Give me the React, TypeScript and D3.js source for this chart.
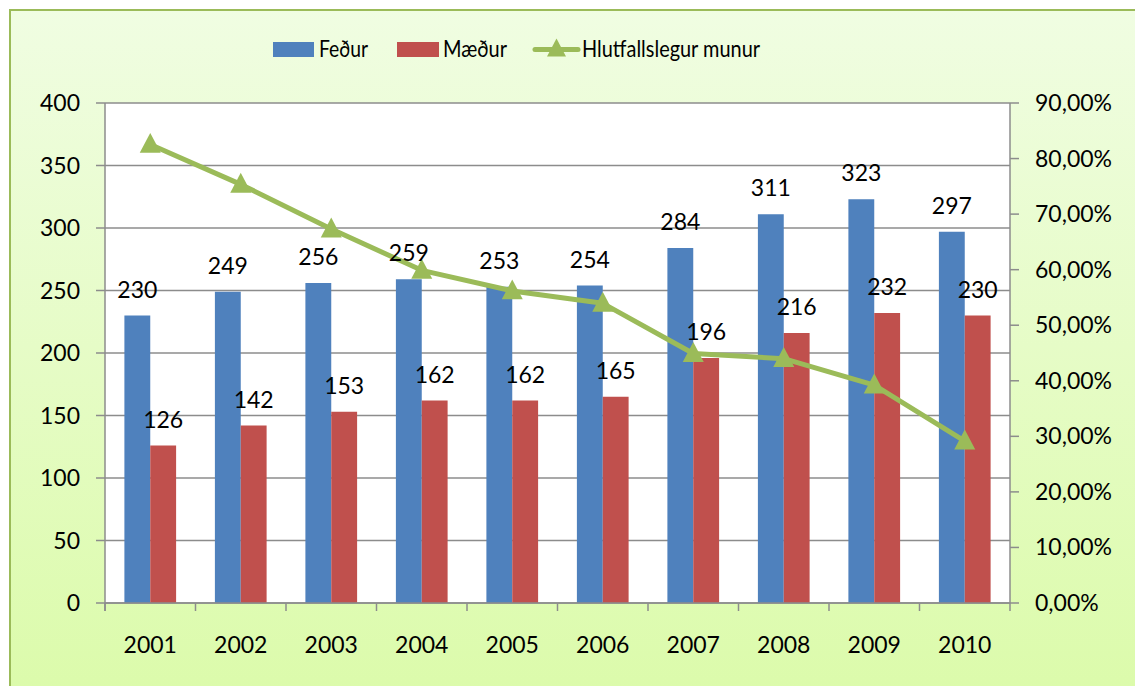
import React from "react";
import * as d3 from "d3";

const years = ["2001", "2002", "2003", "2004", "2005", "2006", "2007", "2008", "2009", "2010"];
const fathers = [230, 249, 256, 259, 253, 254, 284, 311, 323, 297];
const mothers = [126, 142, 153, 162, 162, 165, 196, 216, 232, 230];
const ratio = [0.8254, 0.7535, 0.6732, 0.5988, 0.5617, 0.5394, 0.449, 0.4398, 0.3922, 0.2913];
const leftTicks = [0, 50, 100, 150, 200, 250, 300, 350, 400];
const rightTicks = [0, 0.1, 0.2, 0.3, 0.4, 0.5, 0.6, 0.7, 0.8, 0.9];
const legendLabels = ["Feður", "Mæður", "Hlutfallslegur munur"];

const W = 1135;
const H = 686;
const L = 105, R = 1010, T = 103, B = 603;
const BLUE = "#4f81bd";
const RED = "#c0504d";
const GREEN = "#9bbb59";
const GRID = "#8c8c8c";
const FONT = "Lato, 'Open Sans', sans-serif";

export default function App() {
  const x = d3.scaleBand<string>().domain(years).range([L, R]).paddingInner(0).paddingOuter(0);
  const y = d3.scaleLinear().domain([0, 400]).range([B, T]);
  const y2 = d3.scaleLinear().domain([0, 0.9]).range([B, T]);
  const bw = x.bandwidth();
  const barW = bw / 3.5;
  const groupOff = (bw - 2 * barW) / 2;
  const line = d3
    .line<number>()
    .x((_, i) => (x(years[i]) as number) + bw / 2)
    .y((d) => y2(d));
  const fmtPct = (v: number) => (v * 100).toFixed(2).replace(".", ",") + "%";
  const tri = (cx: number, cy: number, s: number) =>
    `M${cx},${cy - s * 0.55} L${cx + s / 2},${cy + s * 0.4} L${cx - s / 2},${cy + s * 0.4} Z`;

  return (
    <svg width={W} height={H} style={{ position: "absolute", left: 0, top: 0, background: "#fff" }}>
      <defs>
        <linearGradient id="bg" x1="0" y1="0" x2="0" y2="1">
          <stop offset="0" stopColor="#f0fde2" />
          <stop offset="1" stopColor="#dbfba9" />
        </linearGradient>
      </defs>
      <rect x={10} y={10} width={W + 20} height={H + 20} fill="url(#bg)" stroke={GREEN} strokeWidth={2} />
      <rect x={L} y={T} width={R - L} height={B - T} fill="#fff" />
      {leftTicks.map((t) => (
        <line key={"g" + t} x1={L - 9} x2={R} y1={y(t)} y2={y(t)} stroke={GRID} strokeWidth={1.5} />
      ))}
      {years.map((yr, i) => {
        const x0 = (x(yr) as number) + groupOff;
        return (
          <g key={yr}>
            <rect x={x0} y={y(fathers[i])} width={barW} height={B - y(fathers[i])} fill={BLUE} />
            <rect x={x0 + barW} y={y(mothers[i])} width={barW} height={B - y(mothers[i])} fill={RED} />
          </g>
        );
      })}
      <line x1={L} x2={L} y1={T} y2={B + 8} stroke={GRID} strokeWidth={1.5} />
      <line x1={R} x2={R} y1={T} y2={B + 8} stroke={GRID} strokeWidth={1.5} />
      <line x1={L} x2={R} y1={B} y2={B} stroke={GRID} strokeWidth={1.5} />
      {years.map((yr, i) => (
        <line key={"ct" + i} x1={x(yr) as number} x2={x(yr) as number} y1={B} y2={B + 8} stroke={GRID} strokeWidth={1.5} />
      ))}
      {rightTicks.map((t) => (
        <line key={"rt" + t} x1={R} x2={R + 9} y1={y2(t)} y2={y2(t)} stroke={GRID} strokeWidth={1.5} />
      ))}
      <path d={line(ratio) || ""} fill="none" stroke={GREEN} strokeWidth={5} strokeLinejoin="round" />
      {ratio.map((v, i) => (
        <path key={"m" + i} d={tri((x(years[i]) as number) + bw / 2, y2(v), 21)} fill={GREEN} />
      ))}
      <g fontFamily={FONT} fontSize={23} fill="#000">
        {years.map((yr, i) => {
          const x0 = (x(yr) as number) + groupOff;
          return (
            <g key={"l" + yr}>
              <text x={x0 + barW / 2} y={y(fathers[i]) - 18} textAnchor="middle">{fathers[i]}</text>
              <text x={x0 + barW * 1.5} y={y(mothers[i]) - 18} textAnchor="middle">{mothers[i]}</text>
            </g>
          );
        })}
        {leftTicks.map((t) => (
          <text key={"lt" + t} x={80} y={y(t) + 8} textAnchor="end">{t}</text>
        ))}
        {rightTicks.map((t) => (
          <text key={"rl" + t} x={1035} y={y2(t) + 8} textAnchor="start">{fmtPct(t)}</text>
        ))}
        {years.map((yr) => (
          <text key={"yl" + yr} x={(x(yr) as number) + bw / 2} y={653} textAnchor="middle">{yr}</text>
        ))}
        <rect x={273} y={42} width={41} height={15} fill={BLUE} />
        <text x={319} y={57} textLength={49} lengthAdjust="spacingAndGlyphs">{legendLabels[0]}</text>
        <rect x={397} y={42} width={42} height={15} fill={RED} />
        <text x={443} y={57} textLength={64} lengthAdjust="spacingAndGlyphs">{legendLabels[1]}</text>
        <line x1={535} x2={578} y1={49.5} y2={49.5} stroke={GREEN} strokeWidth={5} strokeLinecap="round" />
        <path d={tri(556.5, 49, 19)} fill={GREEN} />
        <text x={582} y={57} textLength={178} lengthAdjust="spacingAndGlyphs">{legendLabels[2]}</text>
      </g>
    </svg>
  );
}
